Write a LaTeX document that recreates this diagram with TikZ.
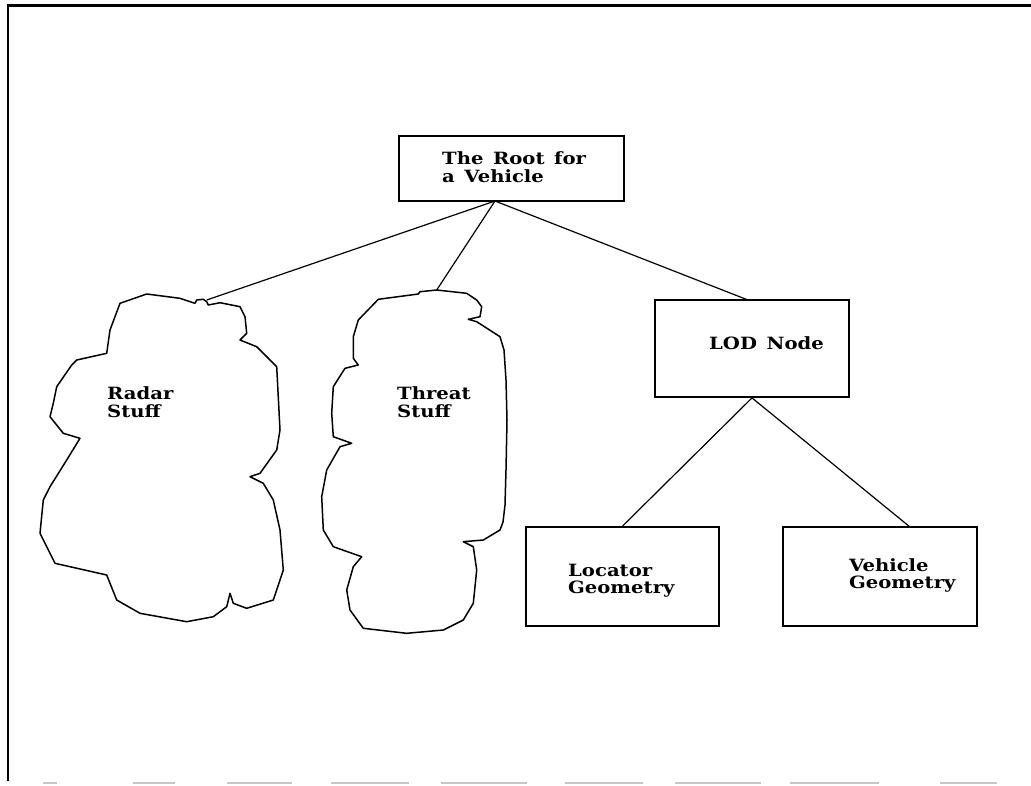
\documentclass[tikz,border=0pt]{standalone}
\usepackage{fontspec}
\newfontfamily\lblfont[FakeStretch=1.16, WordSpace=1.4]{DejaVu Serif}
\begin{document}
\begin{tikzpicture}[x=1pt,y=-1pt,
  boxnode/.style={draw, line width=1.8pt, inner sep=0pt},
  link/.style={line width=1.2pt},
  cloud/.style={line width=1.5pt, line join=round},
  lbl/.style={anchor=base west, inner sep=0pt, font=\lblfont\bfseries\fontsize{16.9}{17.3}\selectfont},
  frame/.style={line width=2.4pt},
  scan/.style={line width=1.6pt, gray!45}]
\useasboundingbox (0,0) rectangle (1031,785);
% frame
\draw[frame] (1031,5.5) -- (8,5.5) -- (8,781);
\foreach \a/\b in {43/57,133/175,227/292,331/409,441/527,565/643,675/761,790/879,940/997}
  \draw[scan] (\a,783) -- (\b,783);
% boxes
\node[boxnode, minimum width=225pt, minimum height=65pt] (root) at (511.5,168.5) {};
\node[boxnode, minimum width=194pt, minimum height=97pt] (lod) at (752,348.5) {};
\node[boxnode, minimum width=193pt, minimum height=99pt] (loc) at (622.5,576.5) {};
\node[boxnode, minimum width=194pt, minimum height=99pt] (veh) at (880,576.5) {};
% labels
\node[lbl] (rootlbl) at (442,164) {\begin{tabular}[t]{@{}l@{}}The Root for\\a Vehicle\end{tabular}};
\node[lbl] (lodlbl) at (709,349) {LOD Node};
\node[lbl] (loclbl) at (568,576) {\begin{tabular}[t]{@{}l@{}}Locator\\Geometry\end{tabular}};
\node[lbl] (vehlbl) at (849,571) {\begin{tabular}[t]{@{}l@{}}Vehicle\\Geometry\end{tabular}};
\node[lbl] (radarlbl) at (107,399) {\begin{tabular}[t]{@{}l@{}}Radar\\Stuff\end{tabular}};
\node[lbl] (threatlbl) at (397,399) {\begin{tabular}[t]{@{}l@{}}Threat\\Stuff\end{tabular}};
% clouds
\draw[cloud] (195,303.3) -- (196.7,300) -- (203.3,299.3) -- (206.7,301.7) -- (208.3,305)
  -- (220,302.7) -- (240,306.7) -- (245,316.7) -- (246.7,333.3) -- (240,340)
  -- (256.7,346.7) -- (276.7,366.7) -- (280,430) -- (276.7,450) -- (260,473.3)
  -- (250,476.7) -- (263.3,483.3) -- (273.3,500) -- (280,530) -- (283.3,570)
  -- (273.3,600) -- (246.7,608.3) -- (233.3,603.3) -- (230,593.3) -- (226.7,606.7)
  -- (213.3,616.7) -- (186.7,621.7) -- (140,613.3) -- (116.7,600) -- (106.7,575)
  -- (55,563.3) -- (40,533.3) -- (43.3,500) -- (50,486.7) -- (66.7,460)
  -- (80,438.3) -- (63.3,433.3) -- (50,416.7) -- (53.3,403.3) -- (56.7,386.7)
  -- (71.7,365) -- (76.7,360) -- (106.7,353.3) -- (110,330) -- (120,303.3)
  -- (146.7,294) -- (180,298.3) -- cycle;
\coordinate (radartop) at (206.7,300);
\draw[cloud] (436.7,290) -- (466.7,293.3) -- (476.7,300) -- (481.7,306.7) -- (480,316.7)
  -- (468.3,319.3) -- (476.7,321.7) -- (500,336.7) -- (504,350) -- (506,380)
  -- (507,420) -- (506,470) -- (505,505) -- (503,522) -- (500,530)
  -- (483.3,540) -- (463.3,541.7) -- (473.3,546.7) -- (476.7,570) -- (473.3,603.3)
  -- (463.3,620) -- (443.3,630) -- (406.7,633.3) -- (363.3,628.3) -- (350,610)
  -- (346.7,590) -- (353.3,566.7) -- (361.7,556.7) -- (333.3,546.7) -- (323.3,530)
  -- (321.7,496.7) -- (326.7,470) -- (340,446.7) -- (351.7,443.3) -- (333.3,436.7)
  -- (331.7,413.3) -- (333.3,386.7) -- (345,368.3) -- (358.3,365) -- (353.3,358.3)
  -- (353.3,336.7) -- (358.3,320) -- (378.3,299.3) -- (418.3,294) -- (420,291.7) -- cycle;
\coordinate (threattop) at (436.7,290);
% connectors
\coordinate (rootfoot) at (495,201);
\coordinate (lodtop) at (748,300);
\coordinate (vehtop) at (910,527);
\draw[link] (rootfoot) -- (radartop);
\draw[link] (rootfoot) -- (threattop);
\draw[link] (rootfoot) -- (lodtop);
\draw[link] (lod.south) -- (loc.north);
\draw[link] (lod.south) -- (vehtop);
\end{tikzpicture}
\end{document}
